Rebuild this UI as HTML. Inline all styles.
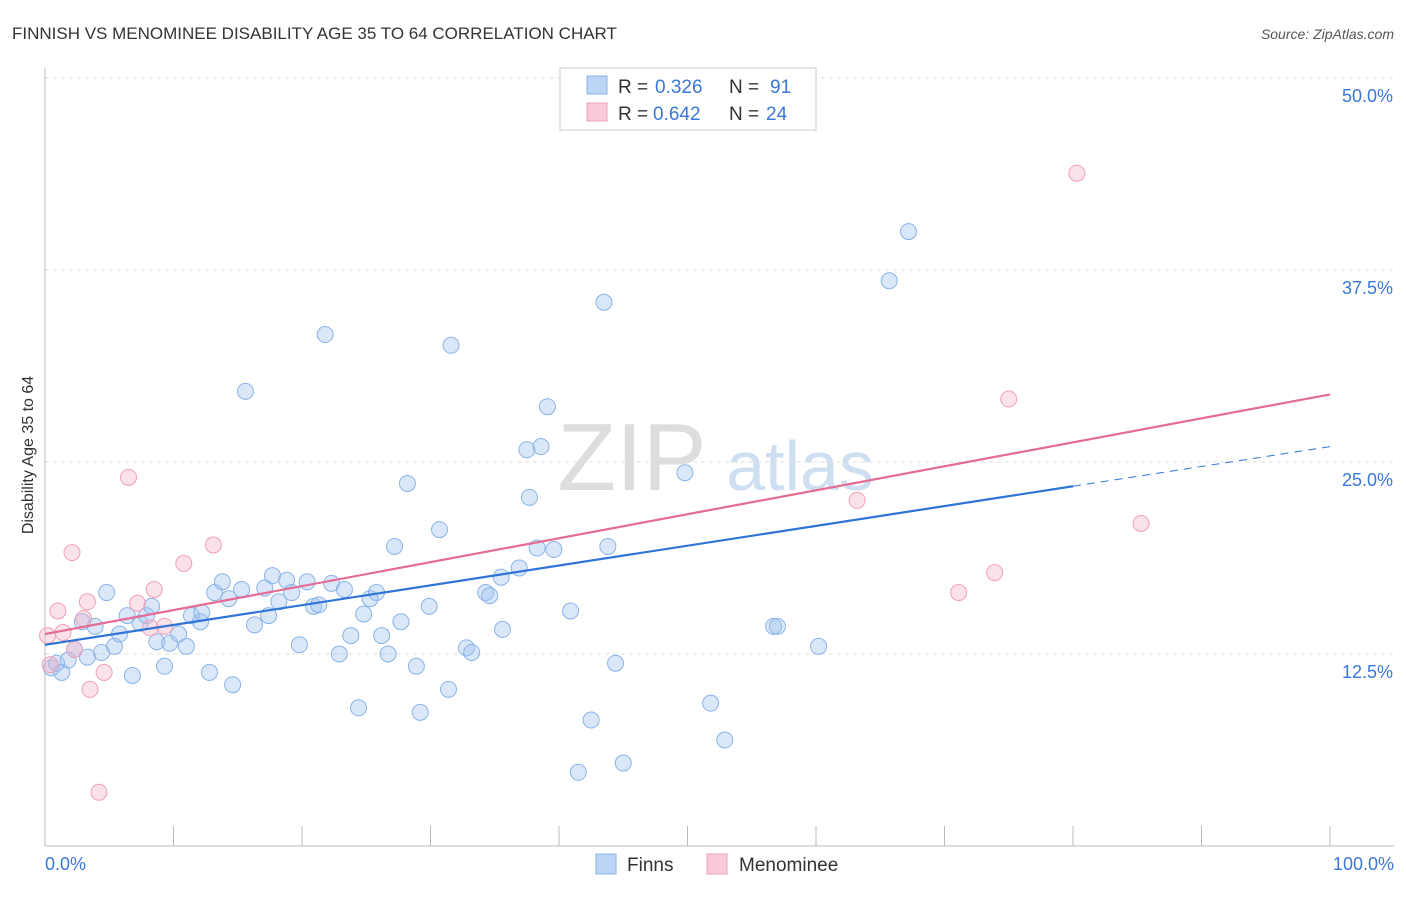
<!DOCTYPE html>
<html><head><meta charset="utf-8">
<style>
body{margin:0;background:#fff;font-family:"Liberation Sans",sans-serif;}
svg text{font-family:"Liberation Sans",sans-serif;}
</style></head>
<body>
<svg id="chart" width="1406" height="892">
<text x="12" y="39" font-size="17" fill="#333">FINNISH VS MENOMINEE DISABILITY AGE 35 TO 64 CORRELATION CHART</text>
<text x="1394" y="39" font-size="14" fill="#555" font-style="italic" text-anchor="end">Source: ZipAtlas.com</text>
<text transform="translate(33,455) rotate(-90)" font-size="16" fill="#333" text-anchor="middle">Disability Age 35 to 64</text>
<g>
<text x="632" y="490" font-size="96" fill="#ddd" font-family="Liberation Serif" text-anchor="middle">ZIP</text>
<text x="800" y="490" font-size="70" fill="#cfdff2" text-anchor="middle">atlas</text>
</g>
<g id="grid"></g><g id="marks"></g>
<g>
<rect x="560" y="68" width="256" height="62" fill="#fff" stroke="#ccc"/>
<rect x="587" y="76" width="20" height="18" fill="#bcd4f5" stroke="#8ab4e8"/>
<text x="618" y="93" font-size="19" fill="#333">R = <tspan x="655" fill="#3a78d8">0.326</tspan><tspan x="729">N = </tspan><tspan x="770" fill="#3a78d8">91</tspan></text>
<rect x="587" y="103" width="20" height="18" fill="#f9cbd8" stroke="#f0a0b8"/>
<text x="618" y="120" font-size="19" fill="#333">R = <tspan x="653" fill="#3a78d8">0.642</tspan><tspan x="729">N = </tspan><tspan x="766" fill="#3a78d8">24</tspan></text>
</g>
<g>
<rect x="596" y="854" width="20" height="20" fill="#bcd4f5" stroke="#8ab4e8"/>
<text x="627" y="871" font-size="19" fill="#333">Finns</text>
<rect x="707" y="854" width="20" height="20" fill="#f9cbd8" stroke="#f0a0b8"/>
<text x="739" y="871" font-size="19" fill="#333">Menominee</text>
</g>
</svg>
<script>
const yTicks=[12.5,25,37.5,50];
const yTickLabels=["12.5%","25.0%","37.5%","50.0%"];
const xTickLabels=["0.0%","100.0%"];
const finnsX=[0.5,0.9,1.3,1.8,2.3,2.9,3.3,3.9,4.4,4.8,5.4,5.8,6.4,6.8,7.4,7.9,8.3,8.7,9.3,9.7,10.4,11.0,11.4,12.1,12.2,12.8,13.2,13.8,14.3,14.6,15.3,16.3,15.6,17.1,17.4,17.7,18.2,18.8,19.2,19.8,20.4,20.9,21.3,21.8,22.3,22.9,23.3,23.8,24.4,24.8,25.3,25.8,26.2,26.7,27.2,27.7,28.2,28.9,29.2,29.9,30.7,31.4,31.6,32.8,33.2,34.3,34.6,35.5,35.6,36.9,37.5,37.7,38.3,38.6,39.1,39.6,40.9,41.5,42.5,43.5,43.8,44.4,45.0,49.8,51.8,52.9,56.7,57.0,60.2,65.7,67.2];
const finnsY=[11.6,11.9,11.3,12.1,12.8,14.6,12.3,14.3,12.6,16.5,13.0,13.8,15.0,11.1,14.5,15.0,15.6,13.3,11.7,13.2,13.8,13.0,15.0,14.6,15.2,11.3,16.5,17.2,16.1,10.5,16.7,14.4,29.6,16.8,15.0,17.6,15.9,17.3,16.5,13.1,17.2,15.6,15.7,33.3,17.1,12.5,16.7,13.7,9.0,15.1,16.1,16.5,13.7,12.5,19.5,14.6,23.6,11.7,8.7,15.6,20.6,10.2,32.6,12.9,12.6,16.5,16.3,17.5,14.1,18.1,25.8,22.7,19.4,26.0,28.6,19.3,15.3,4.8,8.2,35.4,19.5,11.9,5.4,24.3,9.3,6.9,14.3,14.3,13.0,36.8,40.0];
const menX=[0.4,1.0,1.4,2.1,2.3,3.0,3.3,3.5,4.6,6.5,7.2,8.2,8.5,9.3,10.8,13.1,4.2,63.2,71.1,73.9,75.0,80.3,85.3,0.2];
const menY=[11.8,15.3,13.9,19.1,12.8,14.8,15.9,10.2,11.3,24.0,15.8,14.2,16.7,14.3,18.4,19.6,3.5,22.5,16.5,17.8,29.1,43.8,21.0,13.7];
const finnsTrend=[13.1,26.0];
const menTrend=[13.8,29.4];
const X0=45,X1=1330,Y0=846,PY=15.36;
const xs=v=>X0+v*(X1-X0)/100, ys=v=>Y0-v*PY;
const NS="http://www.w3.org/2000/svg";
function mk(t,a,p){const e=document.createElementNS(NS,t);for(const k in a)e.setAttribute(k,a[k]);p.appendChild(e);return e;}
const g=document.getElementById('grid'),m=document.getElementById('marks');
yTicks.forEach((t,i)=>{
 const l=mk('line',{x1:45,x2:1394,y1:ys(t),y2:ys(t),stroke:'#ddd','stroke-dasharray':'4,4'},g);
 
 
 const tx=mk('text',{x:1393,y:ys(t)+24,'font-size':18,fill:'#3a78d8','text-anchor':'end'},g);tx.textContent=yTickLabels[i];
 
 
});
const ax=mk('line',{x1:45,x2:1394,y1:846,y2:846,stroke:'#bbb'},g);


const ay=mk('line',{x1:45,x2:45,y1:68,y2:846,stroke:'#bbb'},g);


for(let i=0;i<=10;i++){const t=mk('line',{x1:xs(i*10),x2:xs(i*10),y1:826,y2:846,stroke:'#bbb'},g);
 
 }
[[0,'start',45],[100,'end',1394]].forEach((d,i)=>{const t=mk('text',{x:d[2],y:870,'font-size':18,fill:'#3a78d8','text-anchor':d[1]},g);t.textContent=xTickLabels[i];
 
 });
finnsX.forEach((x,i)=>{const c=mk('circle',{cx:xs(x),cy:ys(finnsY[i]),r:8,fill:'rgba(160,195,240,0.4)',stroke:'#8ab4e8','stroke-width':1},m);
 
 });
menX.forEach((x,i)=>{const c=mk('circle',{cx:xs(x),cy:ys(menY[i]),r:8,fill:'rgba(245,180,200,0.4)',stroke:'#f0a0b8','stroke-width':1},m);
 
 });
const fy=x=>finnsTrend[0]+(finnsTrend[1]-finnsTrend[0])*x/100;
const l1=mk('line',{x1:xs(0),y1:ys(fy(0)),x2:xs(80),y2:ys(fy(80)),stroke:'#2f74d6','stroke-width':2.2},m);


const l2=mk('line',{x1:xs(80),y1:ys(fy(80)),x2:xs(100),y2:ys(fy(100)),stroke:'#2f74d6','stroke-width':1,'stroke-dasharray':'8,6'},m);


const l3=mk('line',{x1:xs(0),y1:ys(menTrend[0]),x2:xs(100),y2:ys(menTrend[1]),stroke:'#e46b93','stroke-width':2.2},m);


</script>
</body></html>
